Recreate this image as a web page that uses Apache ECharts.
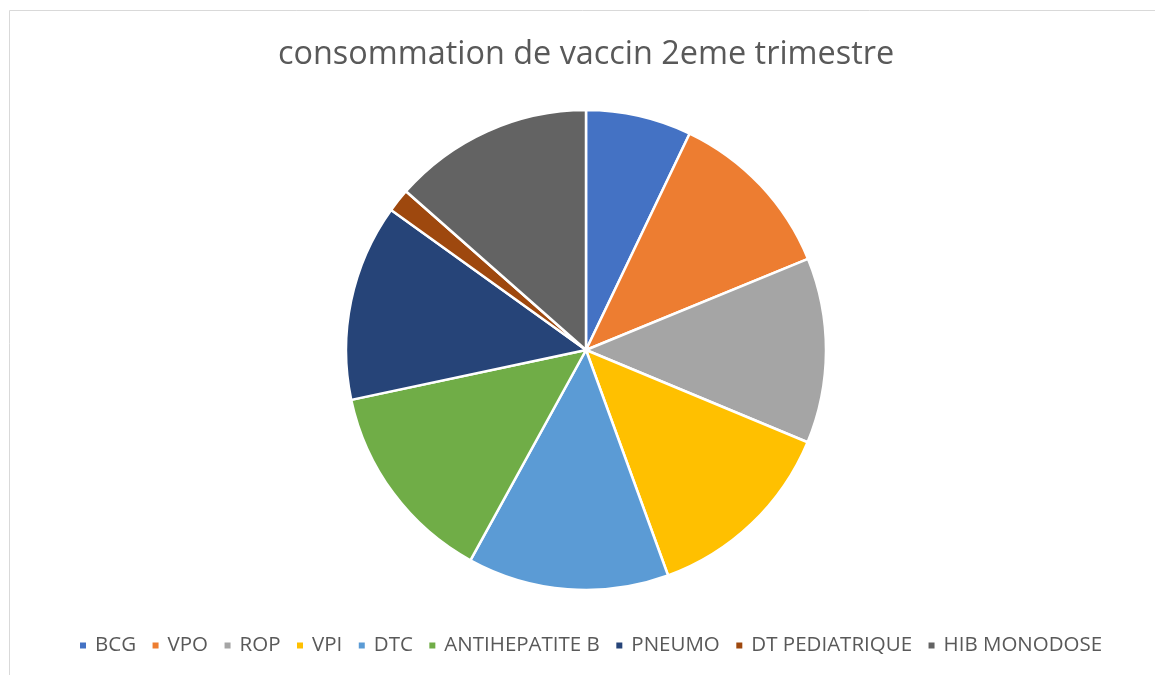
<!DOCTYPE html>
<html>
<head>
<meta charset="utf-8">
<script src="https://cdn.jsdelivr.net/npm/echarts@6/dist/echarts.min.js"></script>
<style>html,body{margin:0;padding:0;background:#fff}#c{width:1155px;height:675px}</style>
</head>
<body>
<div id="c"></div>
<script>
var titleText = 'consommation de vaccin 2eme trimestre';
var categories = ['BCG', 'VPO', 'ROP', 'VPI', 'DTC', 'ANTIHEPATITE B', 'PNEUMO', 'DT PEDIATRIQUE', 'HIB MONODOSE'];
var values = [256, 421, 449, 474, 488, 492, 477, 57, 486];
var colors = ['#4472C4', '#ED7D31', '#A5A5A5', '#FFC000', '#5B9BD5', '#70AD47', '#264478', '#9E480E', '#636363'];

var chart = echarts.init(document.getElementById('c'), null, {renderer: 'canvas'});
var font = 'Open Sans, sans-serif';
chart.setOption({
  animation: false,
  color: colors,
  title: {
    text: titleText,
    left: 278,
    top: 39,
    padding: 0,
    textStyle: {fontFamily: font, fontSize: 32.4, fontWeight: 'normal', color: '#595959'}
  },
  legend: {
    bottom: 19,
    left: 78,
    padding: 0,
    icon: 'rect',
    itemWidth: 8,
    itemHeight: 8,
    itemGap: 14.5,
    textStyle: {fontFamily: font, fontSize: 20.5, color: '#595959', padding: [0, 0, 0, 3]},
    data: categories
  },
  graphic: [{
    type: 'rect',
    shape: {x: 9.5, y: 10.5, width: 1200, height: 700},
    style: {fill: 'none', stroke: '#d9d9d9', lineWidth: 1},
    silent: true
  }],
  series: [{
    type: 'pie',
    center: [586, 350],
    radius: [0, 240],
    startAngle: 90,
    clockwise: true,
    label: {show: false},
    labelLine: {show: false},
    itemStyle: {borderColor: '#ffffff', borderWidth: 2.5},
    emphasis: {disabled: true},
    data: categories.map(function (c, i) { return {name: c, value: values[i]}; })
  }]
});
</script>
</body>
</html>
